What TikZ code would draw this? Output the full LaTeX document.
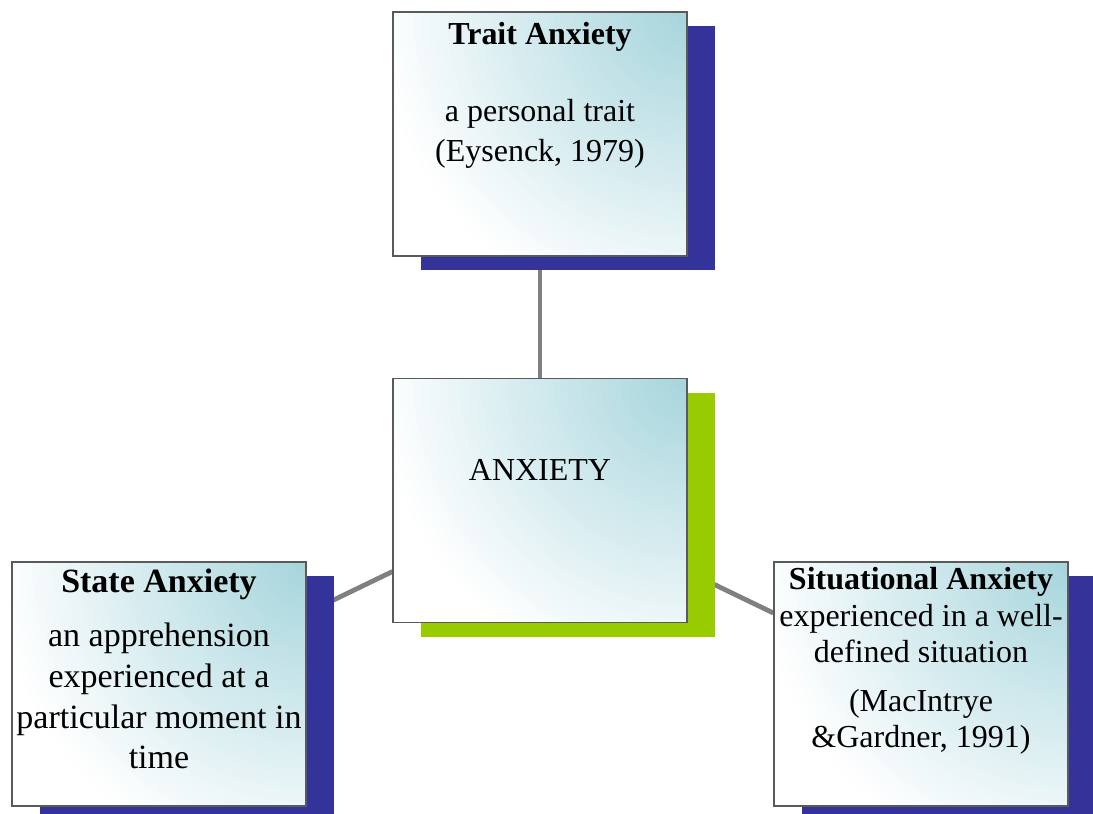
\documentclass[tikz,border=0pt]{standalone}
\usepackage{fontspec}
\setmainfont{Liberation Serif}
\usetikzlibrary{shadows,backgrounds}

\definecolor{boxteal}{RGB}{166,213,220}
\definecolor{shadeblue}{RGB}{51,51,153}
\definecolor{shadegreen}{RGB}{153,204,0}
\definecolor{boxline}{RGB}{90,90,90}
\definecolor{linkgray}{RGB}{128,128,128}

\tikzset{
  % glow that fades out from the top right corner of each card
  card/.style={draw=boxline, line width=0.9pt, minimum width=220.5pt, minimum height=183pt, inner sep=0pt,
    fill=white, path picture={
      \foreach \i in {46,45,...,1} {
        \pgfmathsetmacro\glow{100*(1-(\i-0.5)/46)}
        \fill[boxteal!\glow] (path picture bounding box.north east) circle [radius=\i*5pt];
      }}},
  blueshadow/.style={drop shadow={shadow xshift=21pt, shadow yshift=-10.5pt, fill=shadeblue, opacity=1}},
  greenshadow/.style={drop shadow={shadow xshift=21pt, shadow yshift=-10.5pt, fill=shadegreen, opacity=1}},
  txt/.style={inner sep=0pt, align=center},
  link/.style={draw=linkgray, line width=3.6pt}
}

\begin{document}
\begin{tikzpicture}[x=0.75pt,y=0.75pt,yscale=-1,xscale=1]
\useasboundingbox (0,0) rectangle (1093,814);

% Boxes
\node [card, blueshadow] (trait) at (540,134) {};
\node [card, greenshadow] (anx) at (540,500.5) {};
\node [card, blueshadow] (state) at (159,684) {};
\node [card, blueshadow] (sit) at (921,684) {};

% Connectors
\begin{scope}[on background layer]
\draw [link] (trait) -- (anx);
\draw [link] (anx) -- (state);
\draw [link] (anx) -- (sit);
\end{scope}

% Text Node
\node [txt, anchor=north, font=\fontsize{24}{30}\selectfont] (traittxt) at (540,22)
  {\textbf{Trait Anxiety}\\[28pt]a personal trait\\(Eysenck, 1979)};
% Text Node
\node [txt, anchor=base, font=\fontsize{24}{30}\selectfont] (anxtxt) at (540,480) {ANXIETY};
% Text Node
\node [txt, anchor=north, font=\fontsize{25.5}{30.5}\selectfont] (statetxt) at (159,569)
  {\textbf{State Anxiety}\\[10pt]an apprehension\\experienced at a\\particular moment in\\time};
% Text Node
\node [txt, anchor=north, font=\fontsize{24}{27.4}\selectfont] (sittxt) at (921,567)
  {\textbf{Situational Anxiety}\\experienced in a well-\\defined situation\\[9pt](MacIntrye\\\&Gardner, 1991)};

\end{tikzpicture}
\end{document}
